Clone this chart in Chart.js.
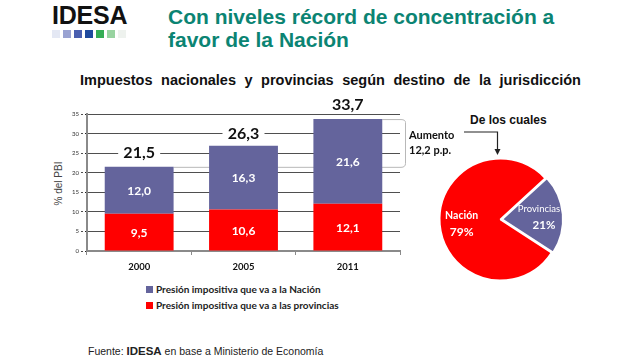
<!DOCTYPE html>
<html><head><meta charset="utf-8">
<script src="https://cdn.jsdelivr.net/npm/chart.js@4/dist/chart.umd.min.js"></script>
<style>
html,body{margin:0;padding:0;background:#fff;width:640px;height:360px;overflow:hidden;position:relative;font-family:"Liberation Sans",Arial,sans-serif}
.abs{position:absolute;white-space:nowrap}
#logo{left:52px;top:1px;font:bold 25px "Liberation Sans",Arial;color:#111;letter-spacing:-0.2px}
#sq{left:52px;top:30px;height:8px}
#sq span{display:inline-block;width:8px;height:8px;margin-right:3px;vertical-align:top}
#title{left:168px;top:5px;font:bold 21px "Liberation Sans",Arial;color:#0b8473;line-height:23px}
#sub{left:80px;top:72px;font:bold 14.5px "Liberation Sans",Arial;color:#111;word-spacing:4.5px}
#ytitle{left:33px;top:178px;font:10px "Liberation Sans",Arial;color:#444;transform:rotate(-90deg);transform-origin:center;width:50px;text-align:center}
#legend{left:146px;top:281px;font:bold 10px Lato,sans-serif;color:#222;line-height:16px}
#legend i{display:inline-block;width:7px;height:7px;margin-right:3px;vertical-align:0px}
#foot{left:88px;top:345px;font:10.5px "Liberation Sans",Arial;color:#222}
#decl{left:470px;top:113px;font:bold 12px "Liberation Sans",Arial;color:#111}
canvas{position:absolute}
</style></head>
<body>
<div class="abs" id="logo">IDESA</div>
<div class="abs" id="sq"><span style="background:#e4e8f4"></span><span style="background:#9aa3d2"></span><span style="background:#4a5fb0"></span><span style="background:#1f4a9e"></span><span style="background:#35ad55"></span><span style="background:#98d3a0"></span><span style="background:#eef2ee"></span></div>
<div class="abs" id="title">Con niveles récord de concentración a<br>favor de la Nación</div>
<div class="abs" id="sub">Impuestos nacionales y provincias según destino de la jurisdicción</div>
<div class="abs" id="ytitle">% del PBI</div>
<div class="abs" id="legend"></div>
<div class="abs" id="foot">Fuente: <b style="font-size:11.5px">IDESA</b> en base a Ministerio de Economía</div>
<div class="abs" id="decl">De los cuales</div>
<svg class="abs" style="left:0;top:0" width="640" height="360">
  <polyline points="464,132 497.5,132 497.5,150" fill="none" stroke="#222" stroke-width="1.2"/>
  <polygon points="494.5,149 500.5,149 497.5,155" fill="#222"/>
</svg>
<canvas id="bar" width="640" height="360" style="left:0;top:0;width:640px;height:360px"></canvas>
<canvas id="pie" width="161" height="161" style="left:420px;top:139px;width:161px;height:161px"></canvas>
<script>
// ---- data ----
const years = ['2000', '2005', '2011'];
const nacion = [12.0, 16.3, 21.6];
const provincias = [9.5, 10.6, 12.1];
const totals = [21.5, 26.3, 33.7];
const yTicks = [0, 5, 10, 15, 20, 25, 30, 35];
const seriesNames = ['Presión impositiva que va a la Nación', 'Presión impositiva que va a las provincias'];
const pieLabels = ['Nación', 'Provincias'];
const pieValues = [79, 21];

const PURPLE = '#64649c';
const RED = '#ff0000';
const fmt = v => v.toFixed(1).replace('.', ',');

document.getElementById('legend').innerHTML =
  '<div><i style="background:' + PURPLE + '"></i>' + seriesNames[0] + '</div>' +
  '<div><i style="background:' + RED + '"></i>' + seriesNames[1] + '</div>';

const barLabels = {
  id: 'barLabels',
  beforeDatasetsDraw(chart) {
    const ctx = chart.ctx, y = chart.scales.y;
    const m0 = chart.getDatasetMeta(1).data[0];
    const m2 = chart.getDatasetMeta(1).data[2];
    const bx = 405;
    const yLow = y.getPixelForValue(totals[0]);
    const yHigh = y.getPixelForValue(totals[2]);
    ctx.save();
    ctx.strokeStyle = '#b8b8b8';
    ctx.lineWidth = 1;
    ctx.beginPath();
    ctx.moveTo(m0.x + m0.width / 2, yLow + 0.5);
    ctx.lineTo(bx - 4, yLow + 0.5);
    ctx.quadraticCurveTo(bx + 0.5, yLow + 0.5, bx + 0.5, yLow - 3.5);
    ctx.lineTo(bx + 0.5, yHigh + 3.5);
    ctx.quadraticCurveTo(bx + 0.5, yHigh + 0.5, bx - 4, yHigh + 0.5);
    ctx.lineTo(m2.x + m2.width / 2, yHigh + 0.5);
    ctx.stroke();
    ctx.restore();
  },
  afterDatasetsDraw(chart) {
    const ctx = chart.ctx, y = chart.scales.y;
    ctx.save();
    ctx.textAlign = 'center';
    ctx.textBaseline = 'middle';
    ctx.fillStyle = '#fff';
    ctx.font = 'bold 12px Lato, sans-serif';
    chart.data.datasets.forEach((ds, di) => {
      chart.getDatasetMeta(di).data.forEach((el, i) => {
        ctx.fillText(fmt(ds.data[i]), el.x, (el.y + el.base) / 2 + 1);
      });
    });
    const top = chart.getDatasetMeta(1).data;
    ctx.font = 'bold 16px Lato, sans-serif';
    totals.forEach((t, i) => {
      const px = top[i].x, py = y.getPixelForValue(t) - 14;
      ctx.fillStyle = '#fff';
      ctx.fillRect(px - 21, py - 8, 42, 16);
      ctx.fillStyle = '#111';
      ctx.fillText(fmt(t), px, py);
    });
    ctx.textAlign = 'left';
    ctx.font = 'bold 11px Lato, sans-serif';
    ctx.fillStyle = '#111';
    const mid = (y.getPixelForValue(totals[0]) + y.getPixelForValue(totals[2])) / 2;
    ctx.fillText('Aumento', 409, mid - 8);
    ctx.fillText(fmt(totals[2] - totals[0]) + ' p.p.', 409, mid + 7);
    ctx.restore();
  }
};

new Chart(document.getElementById('bar'), {
  type: 'bar',
  data: {
    labels: years,
    datasets: [
      { label: seriesNames[1], data: provincias, backgroundColor: RED },
      { label: seriesNames[0], data: nacion, backgroundColor: PURPLE }
    ]
  },
  options: {
    responsive: false, animation: false,
    layout: { padding: { left: 57, top: 114, right: 240, bottom: 84 } },
    plugins: { legend: { display: false }, tooltip: { enabled: false } },
    datasets: { bar: { barPercentage: 0.66, categoryPercentage: 1 } },
    scales: {
      x: {
        stacked: true,
        afterFit: s => { s.height = 25; },
        border: { color: '#8a8a8a', width: 2 },
        grid: { drawOnChartArea: false, drawTicks: true, tickLength: 4, color: '#8a8a8a', lineWidth: 1, offset: true },
        ticks: { font: { family: 'Lato', weight: 'bold', size: 9.5 }, color: '#111', padding: 6 }
      },
      y: {
        stacked: true, min: 0, max: 35,
        afterBuildTicks: s => { s.ticks = yTicks.map(v => ({ value: v })); },
        afterFit: s => { s.width = 30; },
        border: { color: '#8a8a8a', width: 2 },
        grid: { color: '#222', lineWidth: 0.8, borderDash: [2, 2], tickBorderDash: [2, 2], tickLength: 6, tickColor: '#222' },
        ticks: { font: { family: 'Lato', size: 6 }, color: '#333', padding: 2 }
      }
    }
  },
  plugins: [barLabels]
});

const pieText = {
  id: 'pieText',
  afterDatasetsDraw(chart) {
    const ctx = chart.ctx;
    const arcs = chart.getDatasetMeta(0).data;
    ctx.save();
    ctx.fillStyle = '#fff';
    ctx.textAlign = 'center';
    ctx.textBaseline = 'middle';
    const a0 = arcs[0], m0 = (a0.startAngle + a0.endAngle) / 2, r0 = a0.outerRadius * 0.64;
    const x0 = a0.x + Math.cos(m0) * r0, y0 = a0.y + Math.sin(m0) * r0;
    ctx.font = 'bold 10.5px Lato, sans-serif';
    ctx.fillText(pieLabels[0], x0, y0 - 7);
    ctx.font = 'bold 12px Lato, sans-serif';
    ctx.fillText(pieValues[0] + '%', x0, y0 + 9);
    const a1 = arcs[1], m1 = (a1.startAngle + a1.endAngle) / 2, r1 = a1.outerRadius * 0.6 + 5;
    const x1 = a1.x + Math.cos(m1) * r1, y1 = a1.y + Math.sin(m1) * r1;
    ctx.font = '9.5px Lato, sans-serif';
    ctx.fillText(pieLabels[1], x1 - 3, y1 - 7);
    ctx.font = 'bold 11.5px Lato, sans-serif';
    ctx.fillText(pieValues[1] + '%', x1 + 2, y1 + 9);
    ctx.restore();
  }
};

new Chart(document.getElementById('pie'), {
  type: 'pie',
  data: {
    labels: pieLabels,
    datasets: [{ data: pieValues, backgroundColor: [RED, PURPLE], borderColor: '#fff', borderWidth: 2, offset: [0, 6] }]
  },
  options: {
    responsive: false, animation: false, rotation: 123, radius: 61,
    plugins: { legend: { display: false }, tooltip: { enabled: false } }
  },
  plugins: [pieText]
});
</script>
</body></html>
